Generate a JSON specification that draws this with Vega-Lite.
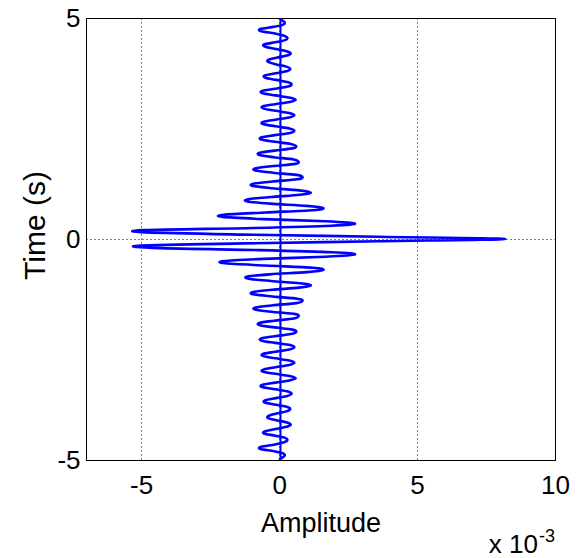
{
  "$schema": "https://vega.github.io/schema/vega-lite/v6.json",
  "width": 469,
  "height": 442,
  "autosize": {"type": "none"},
  "padding": {"left": 86, "top": 18, "right": 23, "bottom": 98},
  "background": "white",
  "config": {"view": {"stroke": "black", "strokeWidth": 1}, "font": "Liberation Sans"},
  "layer": [
    {
      "data": {"values": [
        {"t": -5.0, "a": 0.0}, {"t": -4.95, "a": 0.1}, {"t": -4.9, "a": 0.2}, {"t": -4.85, "a": 0.15}, {"t": -4.8, "a": -0.18},
        {"t": -4.75, "a": -0.68}, {"t": -4.7, "a": -0.65}, {"t": -4.65, "a": -0.15}, {"t": -4.6, "a": 0.18}, {"t": -4.55, "a": 0.3},
        {"t": -4.5, "a": 0.22}, {"t": -4.45, "a": -0.14}, {"t": -4.4, "a": -0.55}, {"t": -4.35, "a": -0.5}, {"t": -4.3, "a": -0.12},
        {"t": -4.25, "a": 0.27}, {"t": -4.2, "a": 0.42}, {"t": -4.15, "a": 0.28}, {"t": -4.1, "a": -0.1}, {"t": -4.05, "a": -0.4},
        {"t": -4.0, "a": -0.38}, {"t": -3.95, "a": -0.1}, {"t": -3.9, "a": 0.26}, {"t": -3.85, "a": 0.4}, {"t": -3.8, "a": 0.3},
        {"t": -3.75, "a": -0.12}, {"t": -3.7, "a": -0.52}, {"t": -3.65, "a": -0.5}, {"t": -3.6, "a": -0.11}, {"t": -3.55, "a": 0.3},
        {"t": -3.5, "a": 0.45}, {"t": -3.45, "a": 0.32}, {"t": -3.4, "a": -0.14}, {"t": -3.35, "a": -0.62}, {"t": -3.3, "a": -0.6},
        {"t": -3.25, "a": -0.13}, {"t": -3.2, "a": 0.37}, {"t": -3.15, "a": 0.6}, {"t": -3.1, "a": 0.38}, {"t": -3.05, "a": -0.14},
        {"t": -3.0, "a": -0.6}, {"t": -2.95, "a": -0.55}, {"t": -2.9, "a": -0.13}, {"t": -2.85, "a": 0.36}, {"t": -2.8, "a": 0.55},
        {"t": -2.75, "a": 0.36}, {"t": -2.7, "a": -0.13}, {"t": -2.65, "a": -0.57}, {"t": -2.6, "a": -0.59}, {"t": -2.55, "a": -0.14},
        {"t": -2.5, "a": 0.37}, {"t": -2.45, "a": 0.55}, {"t": -2.4, "a": 0.4}, {"t": -2.35, "a": -0.15}, {"t": -2.3, "a": -0.63},
        {"t": -2.25, "a": -0.65}, {"t": -2.2, "a": -0.16}, {"t": -2.15, "a": 0.42}, {"t": -2.1, "a": 0.62}, {"t": -2.05, "a": 0.47},
        {"t": -2.0, "a": -0.17}, {"t": -1.95, "a": -0.7}, {"t": -1.9, "a": -0.72}, {"t": -1.85, "a": -0.19}, {"t": -1.8, "a": 0.53},
        {"t": -1.75, "a": 0.7}, {"t": -1.7, "a": 0.59}, {"t": -1.65, "a": -0.21}, {"t": -1.6, "a": -0.85}, {"t": -1.55, "a": -0.86},
        {"t": -1.5, "a": -0.22}, {"t": -1.45, "a": 0.62}, {"t": -1.4, "a": 0.85}, {"t": -1.35, "a": 0.65}, {"t": -1.3, "a": -0.24},
        {"t": -1.25, "a": -0.94}, {"t": -1.2, "a": -0.94}, {"t": -1.15, "a": -0.25}, {"t": -1.1, "a": 0.72}, {"t": -1.05, "a": 1.15},
        {"t": -1.0, "a": 0.75}, {"t": -0.95, "a": -0.29}, {"t": -0.9, "a": -1.1}, {"t": -0.85, "a": -1.14}, {"t": -0.8, "a": -0.33},
        {"t": -0.75, "a": 1.0}, {"t": -0.7, "a": 1.6}, {"t": -0.65, "a": 1.21}, {"t": -0.6, "a": -0.49}, {"t": -0.55, "a": -1.95},
        {"t": -0.5, "a": -2.0}, {"t": -0.45, "a": -0.57}, {"t": -0.4, "a": 1.68}, {"t": -0.35, "a": 2.75}, {"t": -0.3, "a": 1.9},
        {"t": -0.25, "a": -0.9}, {"t": -0.2, "a": -4.6}, {"t": -0.15, "a": -5.0}, {"t": -0.1, "a": -1.3}, {"t": -0.05, "a": 3.6},
        {"t": 0.0, "a": 8.2},
        {"t": 0.05, "a": 3.6}, {"t": 0.1, "a": -1.3}, {"t": 0.15, "a": -4.8}, {"t": 0.2, "a": -4.9}, {"t": 0.25, "a": -0.9},
        {"t": 0.3, "a": 1.9}, {"t": 0.35, "a": 2.75}, {"t": 0.4, "a": 1.68}, {"t": 0.45, "a": -0.57}, {"t": 0.5, "a": -2.05},
        {"t": 0.55, "a": -2.0}, {"t": 0.6, "a": -0.49}, {"t": 0.65, "a": 1.21}, {"t": 0.7, "a": 1.6}, {"t": 0.75, "a": 1.0},
        {"t": 0.8, "a": -0.33}, {"t": 0.85, "a": -1.15}, {"t": 0.9, "a": -1.12}, {"t": 0.95, "a": -0.29}, {"t": 1.0, "a": 0.75},
        {"t": 1.05, "a": 1.15}, {"t": 1.1, "a": 0.72}, {"t": 1.15, "a": -0.25}, {"t": 1.2, "a": -0.94}, {"t": 1.25, "a": -0.94},
        {"t": 1.3, "a": -0.24}, {"t": 1.35, "a": 0.65}, {"t": 1.4, "a": 0.85}, {"t": 1.45, "a": 0.62}, {"t": 1.5, "a": -0.22},
        {"t": 1.55, "a": -0.86}, {"t": 1.6, "a": -0.85}, {"t": 1.65, "a": -0.21}, {"t": 1.7, "a": 0.59}, {"t": 1.75, "a": 0.7},
        {"t": 1.8, "a": 0.53}, {"t": 1.85, "a": -0.19}, {"t": 1.9, "a": -0.72}, {"t": 1.95, "a": -0.7}, {"t": 2.0, "a": -0.17},
        {"t": 2.05, "a": 0.47}, {"t": 2.1, "a": 0.62}, {"t": 2.15, "a": 0.42}, {"t": 2.2, "a": -0.16}, {"t": 2.25, "a": -0.65},
        {"t": 2.3, "a": -0.63}, {"t": 2.35, "a": -0.15}, {"t": 2.4, "a": 0.4}, {"t": 2.45, "a": 0.55}, {"t": 2.5, "a": 0.37},
        {"t": 2.55, "a": -0.14}, {"t": 2.6, "a": -0.59}, {"t": 2.65, "a": -0.57}, {"t": 2.7, "a": -0.13}, {"t": 2.75, "a": 0.36},
        {"t": 2.8, "a": 0.55}, {"t": 2.85, "a": 0.36}, {"t": 2.9, "a": -0.13}, {"t": 2.95, "a": -0.55}, {"t": 3.0, "a": -0.6},
        {"t": 3.05, "a": -0.14}, {"t": 3.1, "a": 0.38}, {"t": 3.15, "a": 0.6}, {"t": 3.2, "a": 0.37}, {"t": 3.25, "a": -0.13},
        {"t": 3.3, "a": -0.6}, {"t": 3.35, "a": -0.62}, {"t": 3.4, "a": -0.14}, {"t": 3.45, "a": 0.32}, {"t": 3.5, "a": 0.45},
        {"t": 3.55, "a": 0.3}, {"t": 3.6, "a": -0.11}, {"t": 3.65, "a": -0.5}, {"t": 3.7, "a": -0.52}, {"t": 3.75, "a": -0.12},
        {"t": 3.8, "a": 0.3}, {"t": 3.85, "a": 0.4}, {"t": 3.9, "a": 0.26}, {"t": 3.95, "a": -0.1}, {"t": 4.0, "a": -0.38},
        {"t": 4.05, "a": -0.4}, {"t": 4.1, "a": -0.1}, {"t": 4.15, "a": 0.28}, {"t": 4.2, "a": 0.42}, {"t": 4.25, "a": 0.27},
        {"t": 4.3, "a": -0.12}, {"t": 4.35, "a": -0.5}, {"t": 4.4, "a": -0.55}, {"t": 4.45, "a": -0.14}, {"t": 4.5, "a": 0.22},
        {"t": 4.55, "a": 0.3}, {"t": 4.6, "a": 0.18}, {"t": 4.65, "a": -0.15}, {"t": 4.7, "a": -0.65}, {"t": 4.75, "a": -0.68},
        {"t": 4.8, "a": -0.18}, {"t": 4.85, "a": 0.15}, {"t": 4.9, "a": 0.2}, {"t": 4.95, "a": 0.1}, {"t": 5.0, "a": 0.0}
      ]},
      "mark": {"type": "line", "color": "#0000ff", "strokeWidth": 2.6, "interpolate": "cardinal", "clip": true},
      "encoding": {
        "x": {
          "field": "a", "type": "quantitative",
          "scale": {"domain": [-7, 10], "nice": false, "zero": false},
          "axis": {
            "title": "Amplitude", "values": [-5, 0, 5, 10], "labelExpr": "'' + datum.value",
            "grid": true, "gridColor": "black", "gridDash": [1, 3], "gridOpacity": 1, "gridWidth": 1,
            "domainColor": "black", "domainWidth": 1, "ticks": false,
            "labelFontSize": 26, "labelColor": "black", "labelPadding": 12, "labelFlush": false,
            "titleFontSize": 27, "titleFontWeight": "normal", "titleColor": "black", "titlePadding": 12
          }
        },
        "y": {
          "field": "t", "type": "quantitative",
          "scale": {"domain": [-5, 5], "nice": false, "zero": false},
          "axis": {
            "title": "Time (s)", "values": [-5, 0, 5], "labelExpr": "'' + datum.value",
            "grid": true, "gridColor": "black", "gridDash": [1, 3], "gridOpacity": 1, "gridWidth": 1,
            "domainColor": "black", "domainWidth": 1, "ticks": false,
            "labelFontSize": 26, "labelColor": "black", "labelPadding": 6, "labelFlush": false,
            "titleFontSize": 30, "titleFontWeight": "normal", "titleColor": "black",
            "titleX": -51, "titleY": 207, "titleAngle": 270, "titleBaseline": "middle", "titleAlign": "center"
          }
        },
        "order": {"field": "t", "type": "quantitative"}
      }
    },
    {
      "data": {"values": [{}]},
      "mark": {"type": "rule", "color": "#0000ff", "strokeWidth": 2},
      "encoding": {"x": {"datum": 0.05}}
    },
    {
      "data": {"values": [{}]},
      "mark": {"type": "text", "text": "x 10", "align": "right", "baseline": "alphabetic", "fontSize": 26, "color": "black", "dx": -17, "dy": 93},
      "encoding": {"x": {"datum": 10}, "y": {"datum": -5}}
    },
    {
      "data": {"values": [{}]},
      "mark": {"type": "text", "text": "-3", "align": "left", "baseline": "alphabetic", "fontSize": 18, "color": "black", "dx": -16, "dy": 82},
      "encoding": {"x": {"datum": 10}, "y": {"datum": -5}}
    }
  ]
}
